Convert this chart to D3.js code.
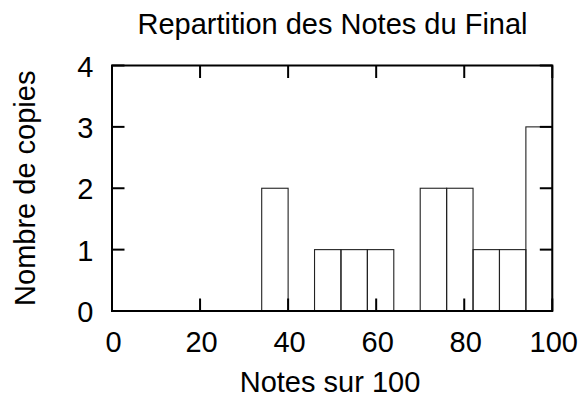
<!DOCTYPE html>
<html>
<head>
<meta charset="utf-8">
<script src="https://cdn.jsdelivr.net/npm/d3@7"></script>
<style>
  html, body { margin: 0; padding: 0; background: #fff; }
  svg { display: block; }
  text { font-family: "Liberation Sans", Arial, sans-serif; fill: #000; }
</style>
</head>
<body>
<svg id="chart" width="584" height="402"></svg>
<script>
// Data
const binEdges = [34, 40, 46, 52, 58, 64, 70, 76, 82, 88, 94, 100];
const binCounts = [2, 0, 1, 1, 1, 0, 2, 2, 1, 1, 3];
const xTicks = [0, 20, 40, 60, 80, 100];
const yTicks = [0, 1, 2, 3, 4];
const titleText = "Repartition des Notes du Final";
const xLabelText = "Notes sur 100";
const yLabelText = "Nombre de copies";

(function () {
const svg = d3.select("#chart");
const pL = 112, pR = 552.3, pT = 65.5, pB = 311;
const fs = 29;
const x = d3.scaleLinear().domain([0, 100]).range([pL, pR]);
const y = d3.scaleLinear().domain([0, 4]).range([pB, pT]);

const bins = binCounts.map((c, i) => ({ x0: binEdges[i], x1: binEdges[i + 1], count: c }))
  .filter(d => d.count > 0);

// bars
svg.append("g").selectAll("rect").data(bins).join("rect")
  .attr("x", d => x(d.x0))
  .attr("width", d => x(d.x1) - x(d.x0))
  .attr("y", d => y(d.count))
  .attr("height", d => y(0) - y(d.count))
  .attr("fill", "none")
  .attr("stroke", "#222")
  .attr("stroke-width", 1.1);

const tickLen = 12.5;
const axes = svg.append("g").attr("stroke", "#000").attr("stroke-width", 2);
xTicks.forEach(t => {
  axes.append("line").attr("x1", x(t)).attr("x2", x(t)).attr("y1", pB).attr("y2", pB - tickLen);
  axes.append("line").attr("x1", x(t)).attr("x2", x(t)).attr("y1", pT).attr("y2", pT + tickLen);
});
yTicks.forEach(t => {
  axes.append("line").attr("x1", pL).attr("x2", pL + tickLen).attr("y1", y(t)).attr("y2", y(t));
  axes.append("line").attr("x1", pR).attr("x2", pR - tickLen).attr("y1", y(t)).attr("y2", y(t));
});
axes.append("rect").attr("x", pL).attr("y", pT)
  .attr("width", pR - pL).attr("height", pB - pT).attr("fill", "none");

// tick labels
svg.append("g").selectAll("text").data(xTicks).join("text")
  .attr("x", d => x(d) + 1.5).attr("y", 351.5)
  .attr("text-anchor", "middle").attr("font-size", fs)
  .text(d => d);
svg.append("g").selectAll("text").data(yTicks).join("text")
  .attr("x", 93.5).attr("y", d => y(d) + 11)
  .attr("text-anchor", "end").attr("font-size", fs)
  .text(d => d);

// title & labels
svg.append("text").attr("x", 332.5).attr("y", 33.5)
  .attr("text-anchor", "middle").attr("font-size", fs).text(titleText);
svg.append("text").attr("x", 330).attr("y", 391.5)
  .attr("text-anchor", "middle").attr("font-size", fs).text(xLabelText);
svg.append("text")
  .attr("transform", `translate(34.5,${(pT + pB) / 2}) rotate(-90)`)
  .attr("text-anchor", "middle").attr("font-size", fs).text(yLabelText);
})();
</script>
</body>
</html>
